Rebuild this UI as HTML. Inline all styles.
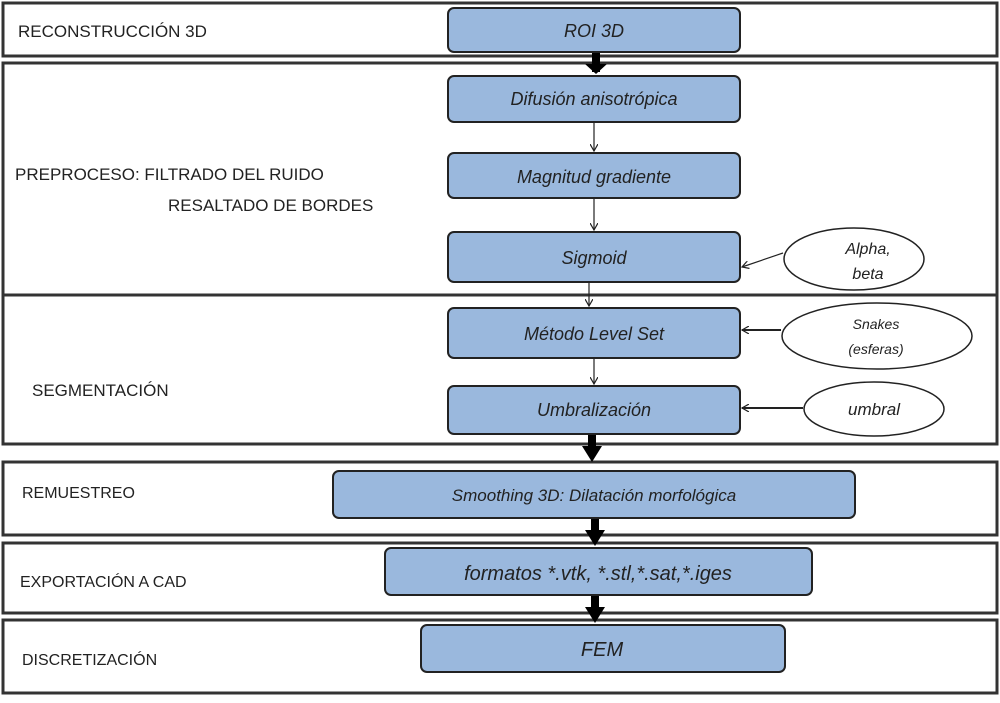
<!DOCTYPE html>
<html><head><meta charset="utf-8"><style>
html,body{margin:0;padding:0;background:#fff}
svg text{font-family:"Liberation Sans",sans-serif}
</style></head><body>
<svg width="1000" height="698" viewBox="0 0 1000 698" xmlns="http://www.w3.org/2000/svg">
<defs>
<marker id="a" markerWidth="8" markerHeight="8" refX="7" refY="4" orient="auto" markerUnits="userSpaceOnUse"><path d="M0,0 L7,4 L0,8" fill="none" stroke="#222" stroke-width="1.2"/></marker>
</defs>
<g fill="none" stroke="#333" stroke-width="3">
<rect x="3" y="3" width="994" height="53"/>
<rect x="3" y="63" width="994" height="381"/>
<line x1="3" y1="295" x2="997" y2="295"/>
<rect x="3" y="462" width="994" height="73"/>
<rect x="3" y="543" width="994" height="70"/>
<rect x="3" y="620" width="994" height="73"/>
</g>
<g fill="#222" font-size="17">
<text x="18" y="37">RECONSTRUCCIÓN 3D</text>
<text x="15" y="180">PREPROCESO: FILTRADO DEL RUIDO</text>
<text x="168" y="211">RESALTADO  DE BORDES</text>
<text x="32" y="396">SEGMENTACIÓN</text>
<text x="22" y="498" font-size="16">REMUESTREO</text>
<text x="20" y="587" font-size="16">EXPORTACIÓN A CAD</text>
<text x="22" y="665" font-size="16">DISCRETIZACIÓN</text>
</g>
<g stroke="#222" stroke-width="1.2" fill="none">
<line x1="594" y1="122" x2="594" y2="151" marker-end="url(#a)"/>
<line x1="594" y1="198" x2="594" y2="230" marker-end="url(#a)"/>
<line x1="589" y1="282" x2="589" y2="306" marker-end="url(#a)"/>
<line x1="594" y1="358" x2="594" y2="384" marker-end="url(#a)"/>
<line x1="783" y1="253" x2="742" y2="267" marker-end="url(#a)"/>
<line x1="781" y1="330" x2="742" y2="330" stroke-width="2" marker-end="url(#a)"/>
<line x1="803" y1="408" x2="742" y2="408" stroke-width="2" marker-end="url(#a)"/>
</g>
<g fill="#000">
<rect x="592" y="52" width="8" height="20"/>
<path d="M585,64 L607,64 L596,74 Z"/>
<rect x="588" y="434" width="8" height="14"/>
<path d="M582,446 L602,446 L592,462 Z"/>
<rect x="591" y="518" width="8" height="14"/>
<path d="M585,530 L605,530 L595,546 Z"/>
<rect x="591" y="595" width="8" height="14"/>
<path d="M585,607 L605,607 L595,623 Z"/>
</g>
<g fill="#9ab8dd" stroke="#222" stroke-width="2">
<rect x="448" y="8" width="292" height="44" rx="6"/>
<rect x="448" y="76" width="292" height="46" rx="6"/>
<rect x="448" y="153" width="292" height="45" rx="6"/>
<rect x="448" y="232" width="292" height="50" rx="6"/>
<rect x="448" y="308" width="292" height="50" rx="6"/>
<rect x="448" y="386" width="292" height="48" rx="6"/>
<rect x="333" y="471" width="522" height="47" rx="6"/>
<rect x="385" y="548" width="427" height="47" rx="6"/>
<rect x="421" y="625" width="364" height="47" rx="6"/>
</g>
<g fill="#fff" stroke="#222" stroke-width="1.5">
<ellipse cx="854" cy="259" rx="70" ry="31"/>
<ellipse cx="877" cy="336" rx="95" ry="33"/>
<ellipse cx="874" cy="409" rx="70" ry="27"/>
</g>
<g fill="#222" font-style="italic" text-anchor="middle" font-size="18">
<text x="594" y="37">ROI 3D</text>
<text x="594" y="105">Difusión anisotrópica</text>
<text x="594" y="183">Magnitud gradiente</text>
<text x="594" y="264">Sigmoid</text>
<text x="594" y="340">Método Level Set</text>
<text x="594" y="416">Umbralización</text>
<text x="594" y="501" font-size="17">Smoothing 3D: Dilatación morfológica</text>
<text x="598" y="580" font-size="20">formatos *.vtk,  *.stl,*.sat,*.iges</text>
<text x="602" y="656" font-size="20">FEM</text>
<text x="868" y="254" font-size="16">Alpha,</text>
<text x="868" y="279" font-size="16">beta</text>
<text x="876" y="329" font-size="14">Snakes</text>
<text x="876" y="354" font-size="14">(esferas)</text>
<text x="874" y="415" font-size="17">umbral</text>
</g>
</svg>
</body></html>
